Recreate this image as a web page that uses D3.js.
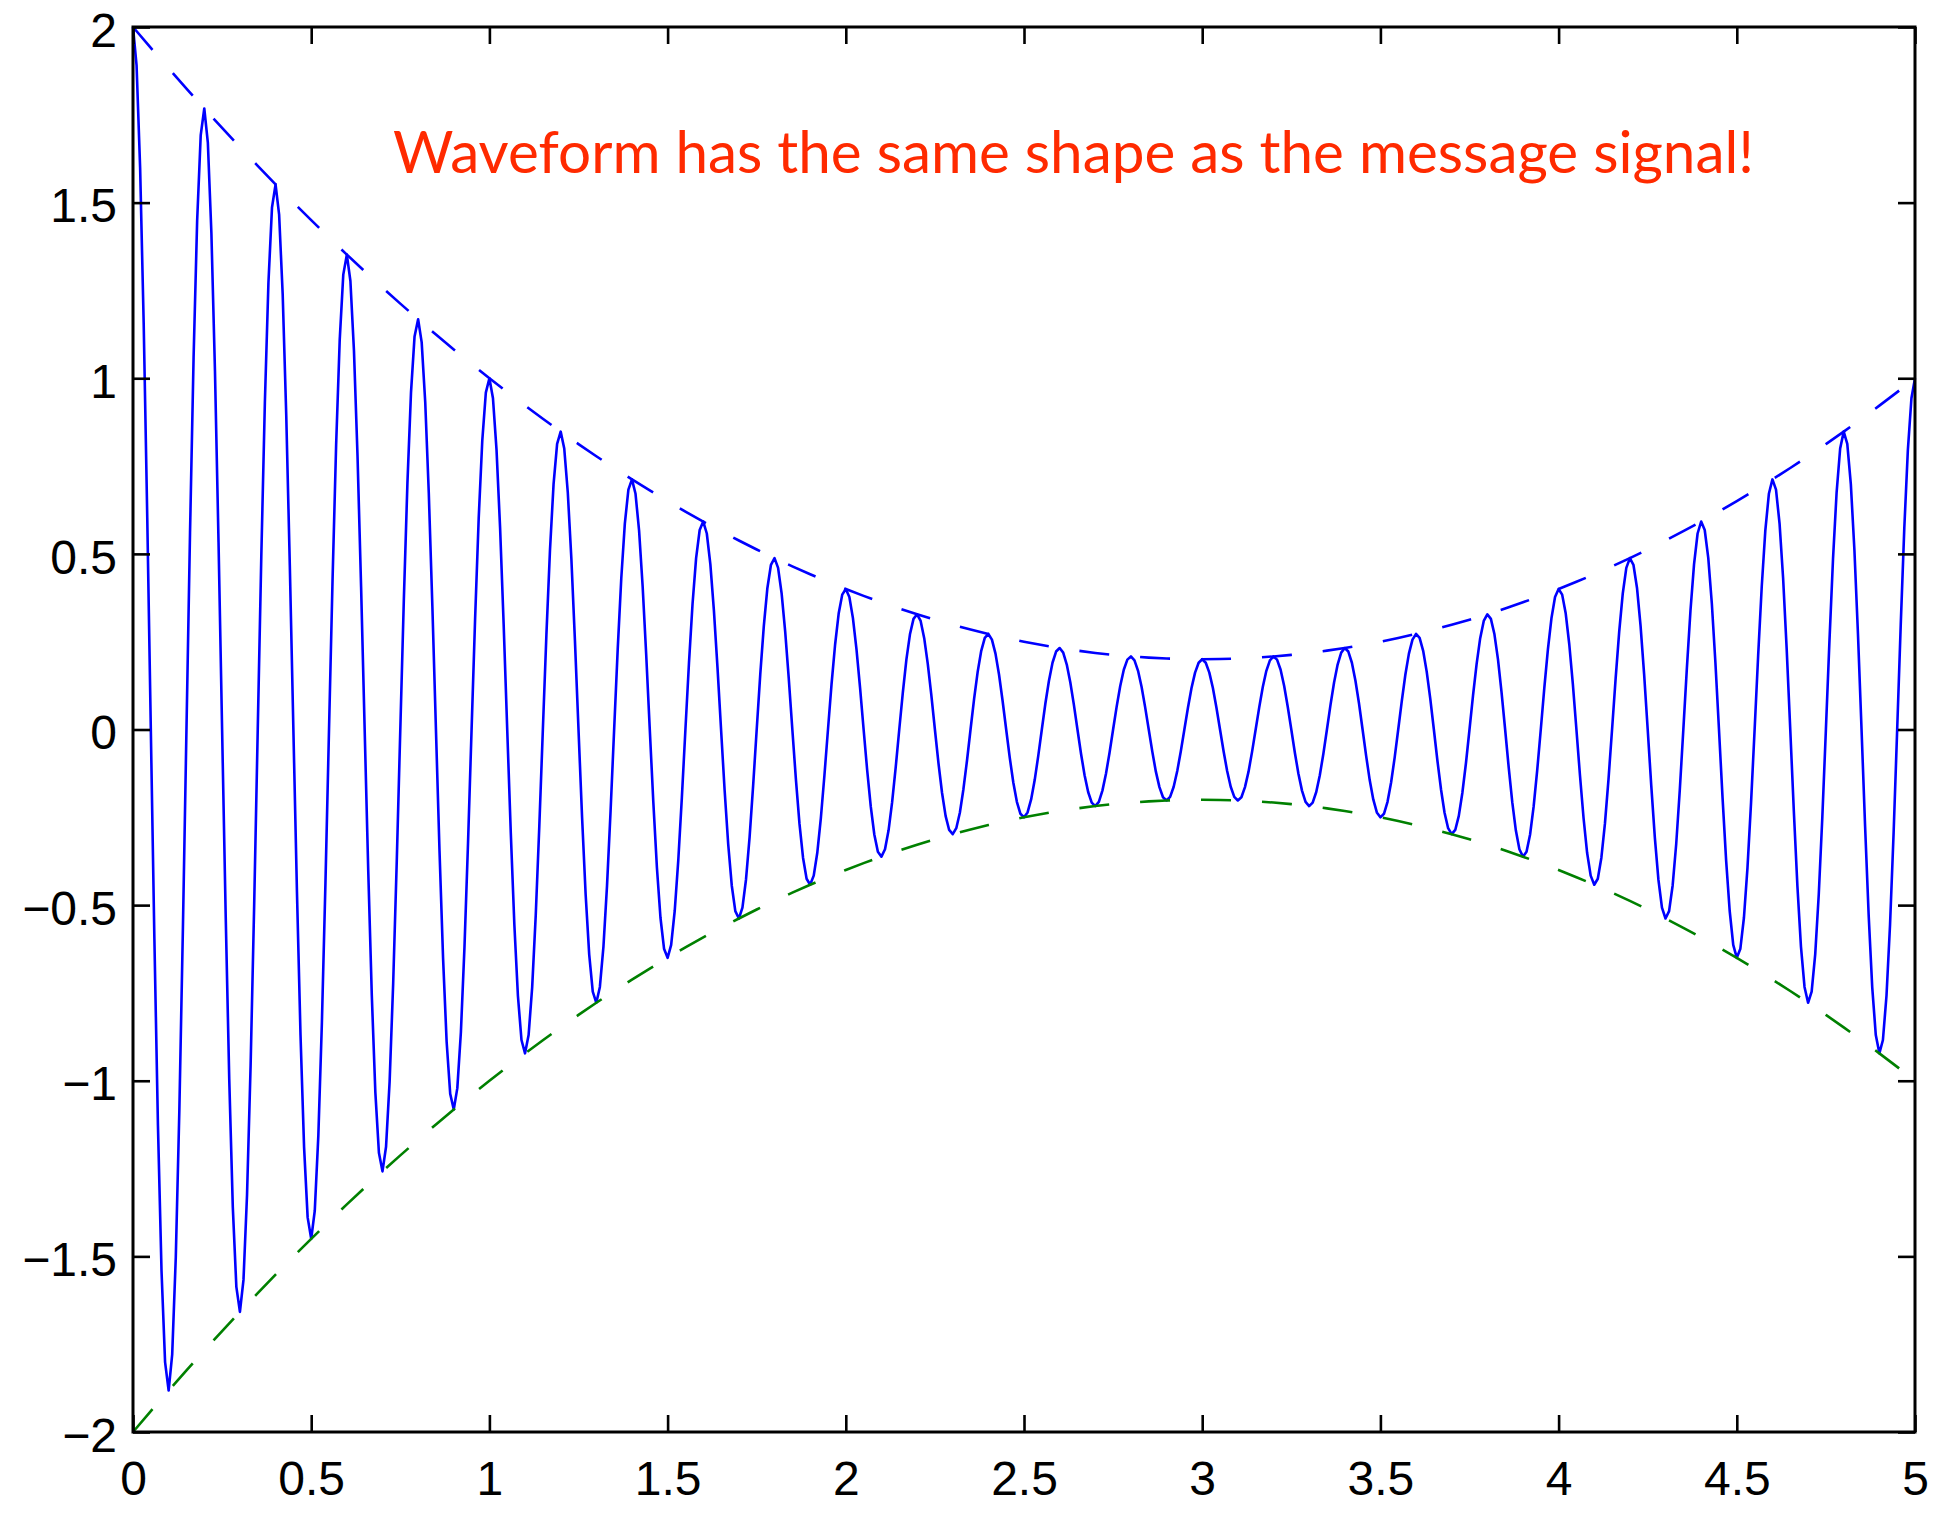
<!DOCTYPE html>
<html>
<head>
<meta charset="utf-8">
<script src="https://cdn.jsdelivr.net/npm/d3@7"></script>
<style>
  html, body { margin: 0; padding: 0; background: #ffffff; }
  svg { display: block; }
</style>
</head>
<body>
<svg id="chart" width="1940" height="1514"></svg>
<script>
// ---- data ----
const titleText = "Waveform has the same shape as the message signal!";

const waveStep = 0.01;   // sample spacing of the modulated waveform (s)
const waveform = [
  2.000, 1.891, 1.599, 1.155, 0.603, 0, -0.596, -1.127, -1.541, -1.801, -1.882, -1.779, -1.504, -1.086, -0.567, 0, 0.560, 1.059, 1.449, 1.692,
  1.768, 1.671, 1.412, 1.020, 0.533, 0, -0.526, -0.994, -1.359, -1.587, -1.658, -1.567, -1.324, -0.956, -0.499, 0, 0.493, 0.931, 1.272, 1.486,
  1.552, 1.466, 1.239, 0.894, 0.467, 0, -0.461, -0.870, -1.189, -1.389, -1.450, -1.370, -1.157, -0.835, -0.436, 0, 0.430, 0.812, 1.109, 1.295,
  1.352, 1.277, 1.078, 0.778, 0.406, 0, -0.400, -0.756, -1.033, -1.205, -1.258, -1.188, -1.003, -0.723, -0.377, 0, 0.372, 0.702, 0.959, 1.119,
  1.168, 1.102, 0.931, 0.671, 0.350, 0, -0.345, -0.651, -0.889, -1.037, -1.082, -1.021, -0.862, -0.621, -0.324, 0, 0.319, 0.602, 0.822, 0.959,
  1.000, 0.943, 0.796, 0.574, 0.299, 0, -0.294, -0.555, -0.758, -0.884, -0.922, -0.870, -0.734, -0.529, -0.276, 0, 0.271, 0.511, 0.698, 0.813,
  0.848, 0.800, 0.674, 0.486, 0.253, 0, -0.249, -0.469, -0.640, -0.746, -0.778, -0.733, -0.618, -0.445, -0.232, 0, 0.228, 0.430, 0.586, 0.683,
  0.712, 0.671, 0.566, 0.407, 0.212, 0, -0.208, -0.393, -0.536, -0.624, -0.650, -0.613, -0.516, -0.372, -0.194, 0, 0.190, 0.358, 0.488, 0.568,
  0.592, 0.558, 0.470, 0.338, 0.176, 0, -0.173, -0.326, -0.444, -0.517, -0.538, -0.507, -0.427, -0.307, -0.160, 0, 0.157, 0.295, 0.403, 0.469,
  0.488, 0.460, 0.387, 0.278, 0.145, 0, -0.142, -0.268, -0.365, -0.425, -0.442, -0.416, -0.351, -0.252, -0.131, 0, 0.129, 0.242, 0.330, 0.384,
  0.400, 0.377, 0.317, 0.228, 0.119, 0, -0.116, -0.219, -0.299, -0.348, -0.362, -0.341, -0.287, -0.207, -0.108, 0, 0.105, 0.199, 0.271, 0.315,
  0.328, 0.309, 0.260, 0.187, 0.098, 0, -0.096, -0.180, -0.246, -0.286, -0.298, -0.281, -0.237, -0.170, -0.089, 0, 0.087, 0.164, 0.224, 0.261,
  0.272, 0.256, 0.216, 0.156, 0.081, 0, -0.080, -0.151, -0.206, -0.240, -0.250, -0.236, -0.199, -0.144, -0.075, 0, 0.074, 0.139, 0.190, 0.222,
  0.232, 0.219, 0.185, 0.134, 0.070, 0, -0.069, -0.130, -0.178, -0.208, -0.218, -0.206, -0.174, -0.126, -0.066, 0, 0.065, 0.124, 0.170, 0.199,
  0.208, 0.197, 0.167, 0.121, 0.063, 0, -0.063, -0.120, -0.164, -0.193, -0.202, -0.192, -0.163, -0.118, -0.062, 0, 0.062, 0.118, 0.162, 0.190,
  0.200,
  0.190, 0.162, 0.118, 0.062, 0, -0.062, -0.118, -0.163, -0.192, -0.202, -0.193, -0.164, -0.120, -0.063, 0, 0.063, 0.121, 0.167, 0.197, 0.208,
  0.199, 0.170, 0.124, 0.065, 0, -0.066, -0.126, -0.174, -0.206, -0.218, -0.208, -0.178, -0.130, -0.069, 0, 0.070, 0.134, 0.185, 0.219, 0.232,
  0.222, 0.190, 0.139, 0.074, 0, -0.075, -0.144, -0.199, -0.236, -0.250, -0.240, -0.206, -0.151, -0.080, 0, 0.081, 0.156, 0.216, 0.256, 0.272,
  0.261, 0.224, 0.164, 0.087, 0, -0.089, -0.170, -0.237, -0.281, -0.298, -0.286, -0.246, -0.180, -0.096, 0, 0.098, 0.187, 0.260, 0.309, 0.328,
  0.315, 0.271, 0.199, 0.105, 0, -0.108, -0.207, -0.287, -0.341, -0.362, -0.348, -0.299, -0.219, -0.116, 0, 0.119, 0.228, 0.317, 0.377, 0.400,
  0.384, 0.330, 0.242, 0.129, 0, -0.131, -0.252, -0.351, -0.416, -0.442, -0.425, -0.365, -0.268, -0.142, 0, 0.145, 0.278, 0.387, 0.460, 0.488,
  0.469, 0.403, 0.295, 0.157, 0, -0.160, -0.307, -0.427, -0.507, -0.538, -0.517, -0.444, -0.326, -0.173, 0, 0.176, 0.338, 0.470, 0.558, 0.592,
  0.568, 0.488, 0.358, 0.190, 0, -0.194, -0.372, -0.516, -0.613, -0.650, -0.624, -0.536, -0.393, -0.208, 0, 0.212, 0.407, 0.566, 0.671, 0.712,
  0.683, 0.586, 0.430, 0.228, 0, -0.232, -0.445, -0.618, -0.733, -0.778, -0.746, -0.640, -0.469, -0.249, 0, 0.253, 0.486, 0.674, 0.800, 0.848,
  0.813, 0.698, 0.511, 0.271, 0, -0.276, -0.529, -0.734, -0.870, -0.922, -0.884, -0.758, -0.555, -0.294, 0, 0.299, 0.574, 0.796, 0.943, 1.000
];

const envStep = 0.05;    // sample spacing of the message envelope (s)
const envelopeUpper = [
  2.000, 1.9405, 1.882, 1.8245, 1.768, 1.7125, 1.658, 1.6045, 1.552, 1.5005,
  1.450, 1.4005, 1.352, 1.3045, 1.258, 1.2125, 1.168, 1.1245, 1.082, 1.0405,
  1.000, 0.9605, 0.922, 0.8845, 0.848, 0.8125, 0.778, 0.7445, 0.712, 0.6805,
  0.650, 0.6205, 0.592, 0.5645, 0.538, 0.5125, 0.488, 0.4645, 0.442, 0.4205,
  0.400, 0.3805, 0.362, 0.3445, 0.328, 0.3125, 0.298, 0.2845, 0.272, 0.2605,
  0.250, 0.2405, 0.232, 0.2245, 0.218, 0.2125, 0.208, 0.2045, 0.202, 0.2005,
  0.200,
  0.2005, 0.202, 0.2045, 0.208, 0.2125, 0.218, 0.2245, 0.232, 0.2405, 0.250,
  0.2605, 0.272, 0.2845, 0.298, 0.3125, 0.328, 0.3445, 0.362, 0.3805, 0.400,
  0.4205, 0.442, 0.4645, 0.488, 0.5125, 0.538, 0.5645, 0.592, 0.6205, 0.650,
  0.6805, 0.712, 0.7445, 0.778, 0.8125, 0.848, 0.8845, 0.922, 0.9605, 1.000
];
const envelopeLower = [
  -2.000, -1.9405, -1.882, -1.8245, -1.768, -1.7125, -1.658, -1.6045, -1.552, -1.5005,
  -1.450, -1.4005, -1.352, -1.3045, -1.258, -1.2125, -1.168, -1.1245, -1.082, -1.0405,
  -1.000, -0.9605, -0.922, -0.8845, -0.848, -0.8125, -0.778, -0.7445, -0.712, -0.6805,
  -0.650, -0.6205, -0.592, -0.5645, -0.538, -0.5125, -0.488, -0.4645, -0.442, -0.4205,
  -0.400, -0.3805, -0.362, -0.3445, -0.328, -0.3125, -0.298, -0.2845, -0.272, -0.2605,
  -0.250, -0.2405, -0.232, -0.2245, -0.218, -0.2125, -0.208, -0.2045, -0.202, -0.2005,
  -0.200,
  -0.2005, -0.202, -0.2045, -0.208, -0.2125, -0.218, -0.2245, -0.232, -0.2405, -0.250,
  -0.2605, -0.272, -0.2845, -0.298, -0.3125, -0.328, -0.3445, -0.362, -0.3805, -0.400,
  -0.4205, -0.442, -0.4645, -0.488, -0.5125, -0.538, -0.5645, -0.592, -0.6205, -0.650,
  -0.6805, -0.712, -0.7445, -0.778, -0.8125, -0.848, -0.8845, -0.922, -0.9605, -1.000
];

const xTicks = [0, 0.5, 1, 1.5, 2, 2.5, 3, 3.5, 4, 4.5, 5];
const xTickLabels = ["0", "0.5", "1", "1.5", "2", "2.5", "3", "3.5", "4", "4.5", "5"];
const yTicks = [-2, -1.5, -1, -0.5, 0, 0.5, 1, 1.5, 2];
const yTickLabels = ["\u22122", "\u22121.5", "\u22121", "\u22120.5", "0", "0.5", "1", "1.5", "2"];

// ---- layout ----
const W = 1940, H = 1514;
const plot = { left: 133, right: 1915, top: 27, bottom: 1432 };
const svg = d3.select("#chart");
svg.append("rect").attr("width", W).attr("height", H).attr("fill", "#ffffff");

const x = d3.scaleLinear().domain([0, 5]).range([plot.left, plot.right]);
const y = d3.scaleLinear().domain([-2, 2]).range([plot.bottom, plot.top]);

const waveData = waveform.map((v, i) => ({ t: i * waveStep, v }));
const upperData = envelopeUpper.map((v, i) => ({ t: i * envStep, v }));
const lowerData = envelopeLower.map((v, i) => ({ t: i * envStep, v }));

const line = d3.line().x(d => x(d.t)).y(d => y(d.v));

svg.append("defs").append("clipPath").attr("id", "clip")
  .append("rect")
  .attr("x", plot.left - 2).attr("y", plot.top - 2)
  .attr("width", plot.right - plot.left + 4).attr("height", plot.bottom - plot.top + 4);

const g = svg.append("g").attr("clip-path", "url(#clip)");

g.append("path").datum(waveData)
  .attr("d", line)
  .attr("fill", "none").attr("stroke", "#0000ff")
  .attr("stroke-width", 2.6).attr("stroke-linejoin", "round");

g.append("path").datum(upperData)
  .attr("d", line)
  .attr("fill", "none").attr("stroke", "#0000ff")
  .attr("stroke-width", 2.6).attr("stroke-dasharray", "30,31");

g.append("path").datum(lowerData)
  .attr("d", line)
  .attr("fill", "none").attr("stroke", "#008000")
  .attr("stroke-width", 2.6).attr("stroke-dasharray", "30,31");

// ---- axes ----
const tickLen = 17;
const fontFamily = "'Liberation Sans', Arial, Helvetica, sans-serif";

const xAxis = d3.axisBottom(x).tickValues(xTicks)
  .tickFormat((d, i) => xTickLabels[i])
  .tickSizeInner(-tickLen).tickSizeOuter(0).tickPadding(29);
const xAxisTop = d3.axisTop(x).tickValues(xTicks).tickFormat("")
  .tickSizeInner(-tickLen).tickSizeOuter(0);
const yAxis = d3.axisLeft(y).tickValues(yTicks)
  .tickFormat((d, i) => yTickLabels[i])
  .tickSizeInner(-tickLen).tickSizeOuter(0).tickPadding(16);
const yAxisRight = d3.axisRight(y).tickValues(yTicks).tickFormat("")
  .tickSizeInner(-tickLen).tickSizeOuter(0);

function styleAxis(sel) {
  sel.select(".domain").remove();
  sel.selectAll(".tick line").attr("stroke", "#000").attr("stroke-width", 2.6);
  sel.selectAll(".tick text").attr("fill", "#000")
    .style("font-family", fontFamily).style("font-size", "48px");
}

svg.append("g").attr("transform", `translate(0,${plot.bottom})`).call(xAxis).call(styleAxis);
svg.append("g").attr("transform", `translate(0,${plot.top})`).call(xAxisTop).call(styleAxis);
const yg = svg.append("g").attr("transform", `translate(${plot.left},0)`).call(yAxis).call(styleAxis);
yg.selectAll(".tick text").attr("dy", "0.4em");
svg.append("g").attr("transform", `translate(${plot.right},0)`).call(yAxisRight).call(styleAxis);

svg.append("rect")
  .attr("x", plot.left).attr("y", plot.top)
  .attr("width", plot.right - plot.left).attr("height", plot.bottom - plot.top)
  .attr("fill", "none").attr("stroke", "#000").attr("stroke-width", 3);

// ---- annotation ----
svg.append("text")
  .attr("x", 393).attr("y", 173)
  .attr("fill", "#ff2a00")
  .attr("textLength", 1361).attr("lengthAdjust", "spacingAndGlyphs")
  .style("font-family", "Lato, 'Open Sans', sans-serif")
  .style("font-size", "58px")
  .text(titleText);
</script>
</body>
</html>
